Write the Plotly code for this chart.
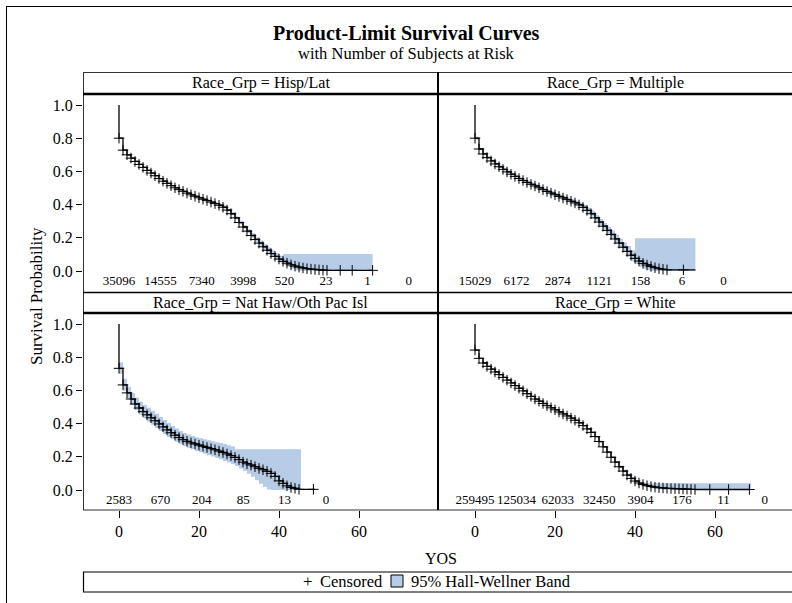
import plotly.graph_objects as go

W, H = 792, 603
SERIF = "Liberation Serif"

# ---------------------------------------------------------------------------
# Product-limit (Kaplan-Meier) estimates by race group, years of service (YOS)
# ---------------------------------------------------------------------------
hisp_years = list(range(0, 53))
hisp_surv = [0.800, 0.728, 0.700, 0.680, 0.660, 0.642, 0.624, 0.606, 0.590, 0.574,
             0.557, 0.541, 0.528, 0.514, 0.501, 0.490, 0.480, 0.469, 0.459, 0.450,
             0.441, 0.432, 0.424, 0.415, 0.406, 0.396, 0.384, 0.367, 0.345, 0.320,
             0.292, 0.265, 0.240, 0.214, 0.190, 0.168, 0.146, 0.125, 0.105, 0.088,
             0.072, 0.058, 0.047, 0.037, 0.029, 0.023, 0.018, 0.014, 0.011, 0.009,
             0.007, 0.005, 0.004]
hisp_lower = [0.795, 0.723, 0.695, 0.675, 0.655, 0.637, 0.619, 0.601, 0.585, 0.569,
              0.552, 0.536, 0.523, 0.509, 0.496, 0.485, 0.475, 0.464, 0.454, 0.445,
              0.436, 0.426, 0.418, 0.409, 0.400, 0.389, 0.377, 0.359, 0.336, 0.311,
              0.282, 0.254, 0.228, 0.201, 0.176, 0.153, 0.130, 0.108, 0.087, 0.069,
              0.052, 0.037, 0.025, 0.014, 0.005, 0.0, 0.0, 0.0, 0.0, 0.0,
              0.0, 0.0, 0.0]
hisp_upper = [0.805, 0.733, 0.705, 0.685, 0.665, 0.647, 0.629, 0.611, 0.595, 0.579,
              0.562, 0.546, 0.533, 0.519, 0.506, 0.495, 0.485, 0.474, 0.464, 0.455,
              0.446, 0.438, 0.430, 0.421, 0.412, 0.403, 0.391, 0.375, 0.354, 0.329,
              0.302, 0.276, 0.252, 0.227, 0.204, 0.183, 0.162, 0.142, 0.123, 0.107,
              0.092, 0.102, 0.102, 0.102, 0.102, 0.102, 0.102, 0.102, 0.102, 0.102,
              0.102, 0.102, 0.102]
hisp_censor_tail = [55.3, 58.3, 63.4]
hisp_curve_end = 63.4
hisp_band_end = 63.4
hisp_at_risk = [35096, 14555, 7340, 3998, 520, 23, 1, 0]

mult_years = list(range(0, 49))
mult_surv = [0.800, 0.735, 0.705, 0.683, 0.663, 0.645, 0.628, 0.612, 0.597, 0.583,
             0.570, 0.557, 0.545, 0.533, 0.522, 0.512, 0.501, 0.490, 0.479, 0.469,
             0.459, 0.449, 0.440, 0.430, 0.420, 0.410, 0.398, 0.383, 0.365, 0.345,
             0.320, 0.295, 0.270, 0.245, 0.220, 0.193, 0.168, 0.143, 0.118, 0.095,
             0.076, 0.060, 0.046, 0.036, 0.027, 0.020, 0.014, 0.010, 0.007]
mult_lower = [0.792, 0.727, 0.697, 0.675, 0.655, 0.637, 0.620, 0.604, 0.589, 0.575,
              0.562, 0.549, 0.537, 0.525, 0.514, 0.503, 0.492, 0.481, 0.470, 0.459,
              0.449, 0.439, 0.429, 0.419, 0.408, 0.397, 0.385, 0.369, 0.350, 0.329,
              0.303, 0.277, 0.251, 0.224, 0.197, 0.168, 0.141, 0.114, 0.087, 0.062,
              0.042, 0.026, 0.013, 0.004, 0.0, 0.0, 0.0, 0.0, 0.0]
mult_upper = [0.808, 0.743, 0.713, 0.691, 0.671, 0.653, 0.636, 0.620, 0.605, 0.591,
              0.578, 0.565, 0.553, 0.541, 0.530, 0.521, 0.510, 0.499, 0.488, 0.479,
              0.469, 0.459, 0.451, 0.441, 0.432, 0.423, 0.411, 0.397, 0.380, 0.361,
              0.337, 0.313, 0.289, 0.266, 0.243, 0.218, 0.195, 0.172, 0.150, 0.125,
              0.197, 0.197, 0.197, 0.197, 0.197, 0.197, 0.197, 0.197, 0.197]
mult_censor_tail = [52.1]
mult_curve_end = 55.1
mult_band_end = 55.1
mult_at_risk = [15029, 6172, 2874, 1121, 158, 6, 0]

nhpi_years = list(range(0, 46))
nhpi_surv = [0.733, 0.633, 0.585, 0.548, 0.518, 0.494, 0.472, 0.453, 0.435, 0.417,
             0.398, 0.380, 0.362, 0.345, 0.330, 0.316, 0.303, 0.293, 0.284, 0.277,
             0.270, 0.263, 0.256, 0.249, 0.242, 0.234, 0.226, 0.217, 0.207, 0.196,
             0.183, 0.168, 0.158, 0.150, 0.140, 0.130, 0.122, 0.112, 0.100, 0.082,
             0.055, 0.040, 0.025, 0.015, 0.010, 0.004]
nhpi_lower = [0.700, 0.600, 0.550, 0.512, 0.480, 0.455, 0.432, 0.412, 0.393, 0.374,
              0.355, 0.337, 0.320, 0.305, 0.290, 0.277, 0.265, 0.255, 0.245, 0.235,
              0.227, 0.218, 0.210, 0.202, 0.193, 0.185, 0.175, 0.165, 0.155, 0.145,
              0.130, 0.115, 0.098, 0.080, 0.058, 0.038, 0.018, 0.003, 0.0, 0.0,
              0.0, 0.0, 0.0, 0.0, 0.0, 0.0]
nhpi_upper = [0.770, 0.670, 0.622, 0.585, 0.556, 0.532, 0.512, 0.495, 0.477, 0.459,
              0.440, 0.422, 0.403, 0.385, 0.370, 0.356, 0.344, 0.334, 0.325, 0.318,
              0.312, 0.306, 0.300, 0.294, 0.288, 0.283, 0.277, 0.270, 0.262, 0.245,
              0.245, 0.245, 0.245, 0.245, 0.245, 0.245, 0.245, 0.245, 0.245, 0.245,
              0.245, 0.245, 0.245, 0.245, 0.245, 0.245]
nhpi_censor_tail = [48.6]
nhpi_curve_end = 49.0
nhpi_band_end = 45.5
nhpi_at_risk = [2583, 670, 204, 85, 13, 0]

white_years = list(range(0, 56))
white_surv = [0.843, 0.793, 0.765, 0.745, 0.728, 0.711, 0.695, 0.678, 0.662, 0.645,
              0.629, 0.613, 0.597, 0.580, 0.564, 0.548, 0.535, 0.521, 0.508, 0.495,
              0.483, 0.470, 0.458, 0.446, 0.433, 0.420, 0.405, 0.388, 0.368, 0.347,
              0.322, 0.292, 0.260, 0.228, 0.197, 0.168, 0.140, 0.114, 0.090, 0.070,
              0.054, 0.042, 0.033, 0.026, 0.021, 0.017, 0.014, 0.012, 0.010, 0.009,
              0.008, 0.007, 0.006, 0.005, 0.004, 0.003]
white_lower = [0.840, 0.790, 0.762, 0.742, 0.725, 0.708, 0.692, 0.675, 0.659, 0.642,
               0.626, 0.610, 0.594, 0.577, 0.561, 0.545, 0.532, 0.518, 0.505, 0.492,
               0.480, 0.467, 0.455, 0.443, 0.430, 0.416, 0.401, 0.384, 0.364, 0.343,
               0.318, 0.286, 0.254, 0.222, 0.191, 0.162, 0.134, 0.106, 0.082, 0.062,
               0.046, 0.032, 0.023, 0.016, 0.011, 0.007, 0.004, 0.002, 0.001, 0.0,
               0.0, 0.0, 0.0, 0.0, 0.0, 0.0]
white_upper = [0.846, 0.796, 0.768, 0.748, 0.731, 0.714, 0.698, 0.681, 0.665, 0.648,
               0.632, 0.616, 0.600, 0.583, 0.567, 0.551, 0.538, 0.524, 0.511, 0.498,
               0.486, 0.473, 0.461, 0.449, 0.436, 0.424, 0.409, 0.392, 0.372, 0.351,
               0.326, 0.298, 0.266, 0.234, 0.203, 0.174, 0.146, 0.122, 0.098, 0.078,
               0.060, 0.040, 0.040, 0.040, 0.040, 0.040, 0.040, 0.040, 0.040, 0.040,
               0.040, 0.040, 0.040, 0.040, 0.040, 0.040]
white_censor_tail = [58.7, 63.4, 68.6]
white_curve_end = 68.6
white_band_end = 69.0
white_at_risk = [259495, 125034, 62033, 32450, 3904, 176, 11, 0]

at_risk_times = [0, 10.35, 20.7, 31.05, 41.4, 51.75, 62.1, 72.45]

groups = [
    ("Hisp/Lat", hisp_years, hisp_surv, hisp_lower, hisp_upper,
     hisp_censor_tail, hisp_curve_end, hisp_band_end, hisp_at_risk),
    ("Multiple", mult_years, mult_surv, mult_lower, mult_upper,
     mult_censor_tail, mult_curve_end, mult_band_end, mult_at_risk),
    ("Nat Haw/Oth Pac Isl", nhpi_years, nhpi_surv, nhpi_lower, nhpi_upper,
     nhpi_censor_tail, nhpi_curve_end, nhpi_band_end, nhpi_at_risk),
    ("White", white_years, white_surv, white_lower, white_upper,
     white_censor_tail, white_curve_end, white_band_end, white_at_risk),
]

# ---------------------------------------------------------------------------
# Page geometry (pixels)
# ---------------------------------------------------------------------------
GRID_L, GRID_M, GRID_R = 83, 438, 792
ROWS = [  # header top, header bottom / plot top, plot bottom, y pixel of 1.0, y pixel of 0.0
    (72, 94, 292.5, 105, 271),
    (292.5, 313, 510, 324, 490),
]
COLS = [  # plot left, plot right, x pixel of YOS=0
    (GRID_L, GRID_M, 119),
    (GRID_M, GRID_R, 475),
]
PX_PER_YEAR = 4.0
BAND_COLOR = "rgb(183,204,230)"


def fx(px):
    return px / W


def fy(py):
    return 1 - py / H


fig = go.Figure()
layout_axes = {}

for i, (name, years, surv, lower, upper, tail, curve_end, band_end, at_risk) in enumerate(groups):
    r, c = divmod(i, 2)
    h_top, p_top, p_bot, y1px, y0px = ROWS[r]
    left, right, x0px = COLS[c]
    xa = "x" if i == 0 else f"x{i + 1}"
    ya = "y" if i == 0 else f"y{i + 1}"
    xkey = "xaxis" if i == 0 else f"xaxis{i + 1}"
    ykey = "yaxis" if i == 0 else f"yaxis{i + 1}"

    # Hall-Wellner confidence band (step-shaped)
    bx = years + [band_end]
    fig.add_trace(go.Scatter(x=bx, y=lower + [lower[-1]], mode="lines",
                             line=dict(width=0, shape="hv", color=BAND_COLOR),
                             hoverinfo="skip", showlegend=False, xaxis=xa, yaxis=ya))
    fig.add_trace(go.Scatter(x=bx, y=upper + [upper[-1]], mode="lines",
                             line=dict(width=0, shape="hv", color=BAND_COLOR),
                             fill="tonexty", fillcolor=BAND_COLOR,
                             hoverinfo="skip", showlegend=False, xaxis=xa, yaxis=ya))

    # survival step function, starting from S(0) = 1
    cx = [0] + years + [curve_end]
    cy = [1.0] + surv + [surv[-1]]
    fig.add_trace(go.Scatter(x=cx, y=cy, mode="lines",
                             line=dict(color="black", width=1.3, shape="hv"),
                             showlegend=False, xaxis=xa, yaxis=ya))

    # censored observations
    mx = years + tail
    my = surv + [surv[-1]] * len(tail)
    fig.add_trace(go.Scatter(x=mx, y=my, mode="markers",
                             marker=dict(symbol="cross-thin", size=7.5,
                                         line=dict(color="black", width=1)),
                             showlegend=False, xaxis=xa, yaxis=ya))

    # number of subjects at risk
    fig.add_trace(go.Scatter(x=at_risk_times[:len(at_risk)], y=[-0.065] * len(at_risk),
                             mode="text", text=[str(v) for v in at_risk],
                             textposition="middle center",
                             textfont=dict(family=SERIF, size=13, color="black"),
                             showlegend=False, hoverinfo="skip", xaxis=xa, yaxis=ya))

    # axes ranges follow the pixel geometry
    px_per_unit = y0px - y1px
    ymax = 1 + (y1px - p_top) / px_per_unit
    ymin = -(p_bot - y0px) / px_per_unit
    xmin = -(x0px - left) / PX_PER_YEAR
    xmax = (right - x0px) / PX_PER_YEAR

    layout_axes[xkey] = dict(
        domain=[fx(left), fx(right)], range=[xmin, xmax], anchor=ya,
        showgrid=False, zeroline=False, showline=False,
        tickvals=[0, 20, 40, 60] if r == 1 else [],
        ticks="outside" if r == 1 else "", ticklen=7, tickwidth=1, tickcolor="black",
        showticklabels=(r == 1),
        tickfont=dict(family=SERIF, size=16, color="black"),
    )
    layout_axes[ykey] = dict(
        domain=[fy(p_bot), fy(p_top)], range=[ymin, ymax], anchor=xa,
        showgrid=False, zeroline=False, showline=False,
        tickvals=[0, 0.2, 0.4, 0.6, 0.8, 1.0] if c == 0 else [],
        ticktext=["0.0", "0.2", "0.4", "0.6", "0.8", "1.0"] if c == 0 else [],
        ticks="outside" if c == 0 else "", ticklen=6, tickwidth=1, tickcolor="black",
        showticklabels=(c == 0),
        tickfont=dict(family=SERIF, size=16, color="black"),
    )

shapes = []
annotations = []


def hline(py, x0, x1, w=1, color="black"):
    shapes.append(dict(type="line", xref="paper", yref="paper",
                       x0=fx(x0), x1=fx(x1), y0=fy(py), y1=fy(py),
                       line=dict(color=color, width=w)))


def vline(px, y0, y1, w=1, color="black"):
    shapes.append(dict(type="line", xref="paper", yref="paper",
                       x0=fx(px), x1=fx(px), y0=fy(y0), y1=fy(y1),
                       line=dict(color=color, width=w)))


# outer frame
hline(6.5, 6, W, 1)
vline(6.5, 6, H, 1)

# panel grid borders
hline(72.5, GRID_L, GRID_R, 1, "#333")
vline(GRID_L + 0.5, 72, 510, 1, "#333")
hline(510, GRID_L, GRID_R, 1.2, "#333")
hline(94, GRID_L, GRID_R, 2.5)
hline(292.5, GRID_L, GRID_R, 1.6)
hline(313, GRID_L, GRID_R, 2.5)
vline(GRID_M, 72, 510, 2)

# cell headers
for i, g in enumerate(groups):
    r, c = divmod(i, 2)
    h_top, p_top = ROWS[r][0], ROWS[r][1]
    left, right = COLS[c][0], COLS[c][1]
    annotations.append(dict(text=f"Race_Grp = {g[0]}", xref="paper", yref="paper",
                            x=fx((left + right) / 2), y=fy((h_top + p_top) / 2 + 0.5),
                            xanchor="center", yanchor="middle", showarrow=False,
                            font=dict(family=SERIF, size=16, color="black")))

# titles
annotations.append(dict(text="<b>Product-Limit Survival Curves</b>", xref="paper", yref="paper",
                        x=fx(406), y=fy(33), xanchor="center", yanchor="middle",
                        showarrow=False, font=dict(family=SERIF, size=20, color="black")))
annotations.append(dict(text="with Number of Subjects at Risk", xref="paper", yref="paper",
                        x=fx(406), y=fy(53), xanchor="center", yanchor="middle",
                        showarrow=False, font=dict(family=SERIF, size=16.5, color="black")))

# axis titles
annotations.append(dict(text="YOS", xref="paper", yref="paper",
                        x=fx(441), y=fy(558), xanchor="center", yanchor="middle",
                        showarrow=False, font=dict(family=SERIF, size=16, color="black")))
annotations.append(dict(text="Survival Probability", xref="paper", yref="paper",
                        x=fx(36), y=fy(296), xanchor="center", yanchor="middle", textangle=-90,
                        showarrow=False, font=dict(family=SERIF, size=17, color="black")))

# legend box
shapes.append(dict(type="rect", xref="paper", yref="paper",
                   x0=fx(83.5), x1=fx(W + 2), y0=fy(592), y1=fy(572),
                   line=dict(color="black", width=1.2)))
annotations.append(dict(text="+", xref="paper", yref="paper", x=fx(308), y=fy(581),
                        xanchor="center", yanchor="middle", showarrow=False,
                        font=dict(family=SERIF, size=17, color="black")))
annotations.append(dict(text="Censored", xref="paper", yref="paper", x=fx(318), y=fy(581.5),
                        xanchor="left", yanchor="middle", showarrow=False,
                        font=dict(family=SERIF, size=16.5, color="black")))
shapes.append(dict(type="rect", xref="paper", yref="paper",
                   x0=fx(391), x1=fx(403), y0=fy(587), y1=fy(575),
                   fillcolor=BAND_COLOR, line=dict(color="black", width=1)))
annotations.append(dict(text="95% Hall-Wellner Band", xref="paper", yref="paper",
                        x=fx(409), y=fy(581.5), xanchor="left", yanchor="middle",
                        showarrow=False, font=dict(family=SERIF, size=16.5, color="black")))

fig.update_layout(
    width=W, height=H, autosize=False,
    margin=dict(l=0, r=0, t=0, b=0, pad=0),
    paper_bgcolor="white", plot_bgcolor="white",
    showlegend=False,
    shapes=shapes, annotations=annotations,
    **layout_axes,
)

fig.write_html("out.html")
